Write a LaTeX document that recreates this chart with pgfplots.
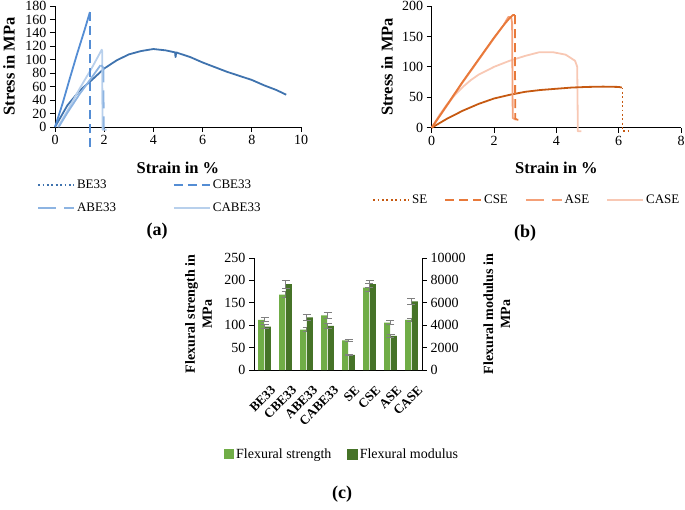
\documentclass[border=0pt]{standalone}
\usepackage{pgfplots}
\pgfplotsset{compat=1.18}
\usepackage{fontspec}
\setmainfont{Liberation Serif}

\definecolor{beA}{RGB}{63,115,174}
\definecolor{beB}{RGB}{84,141,212}
\definecolor{beC}{RGB}{141,180,226}
\definecolor{beD}{RGB}{184,208,236}
\definecolor{seA}{RGB}{198,89,17}
\definecolor{seB}{RGB}{232,121,58}
\definecolor{seC}{RGB}{244,160,120}
\definecolor{seD}{RGB}{248,200,180}
\definecolor{fs}{RGB}{112,173,71}
\definecolor{fm}{RGB}{70,115,40}

\pgfplotsset{
  curve/.style={
    scale only axis, anchor=south west, clip=false,
    axis lines*=left,
    axis line style={black, line width=0.8pt},
    tick align=outside, major tick length=5pt,
    tick style={black, line width=0.8pt},
    tick label style={font=\fontsize{14}{14}\selectfont},
    /pgf/number format/assume math mode=true,
    label style={font=\bfseries\fontsize{16.5}{16.5}\selectfont},
    xmin=0, ymin=0,
    legend style={draw=none, fill=none, font=\fontsize{13}{14}\selectfont,
      inner sep=0pt, anchor=west},
    legend cell align=left,
    legend image code/.code={\draw[##1] (0pt,0pt) -- (36pt,0pt);},
  },
  dotl/.style={dash pattern=on 1.8pt off 2.6pt},
  dashl/.style={dash pattern=on 9pt off 5pt},
  ldashl/.style={dash pattern=on 18pt off 8pt},
  lw/.style={line width=1.8pt, line join=round},
}

\begin{document}
\begin{tikzpicture}
\path[use as bounding box] (0,0) rectangle (685pt,509pt);

% ---------- (a) ----------
\begin{axis}[curve,
  at={(55pt,382pt)}, width=246pt, height=121pt,
  xmax=10, ymax=180,
  xtick={0,2,...,10}, ytick={0,20,...,180},
  xlabel={Strain in \%}, ylabel={Stress in MPa},
  xlabel style={at={(axis description cs:0.5,-0.339)}, anchor=center},
  ylabel style={at={(axis description cs:-0.187,0.5)}, anchor=center},
  legend columns=2,
  legend style={at={(axis description cs:-0.073,-0.574)}, row sep=9pt,
    /tikz/every even column/.append style={column sep=55pt}},
  ]
\addlegendimage{beA, lw, dotl}\addlegendentry{BE33}
\addlegendimage{beB, lw, dashl}\addlegendentry{CBE33}
\addlegendimage{beC, lw, ldashl}\addlegendentry{ABE33}
\addlegendimage{beD, lw}\addlegendentry{CABE33}

\addplot[beA, lw, forget plot] coordinates {
  (0,0) (0.5,32) (1,54) (1.5,70) (2,87) (2.5,99) (3,108) (3.5,113)
  (4,116) (4.5,114) (4.88,111) (4.9,104) (4.93,111) (5,110) (5.5,104)
  (6,96) (6.5,89) (7,82) (7.5,76) (8,70) (8.5,62) (9,55) (9.4,48)};
\addplot[beD, lw, forget plot] coordinates {
  (0.12,0) (0.5,24) (1,57) (1.5,88) (1.9,115) (1.92,113) (1.93,-4) (2.1,-4)};
\addplot[beC, lw, forget plot] coordinates {
  (0.15,0) (0.5,21) (1,49) (1.5,74) (1.85,92)};
\addplot[beC, lw, ldashl, forget plot] coordinates {
  (1.88,92) (1.97,88) (1.98,-4)};
\addplot[beB, lw, forget plot] coordinates {
  (0,0) (0.3,34) (0.6,72) (0.9,109) (1.2,144) (1.42,171)};
\addplot[beB, lw, dashl, forget plot] coordinates {
  (1.43,171) (1.43,-31)};
\end{axis}

% ---------- (b) ----------
\begin{axis}[curve,
  at={(431.7pt,381.3pt)}, width=249.3pt, height=121.7pt,
  xmax=8, ymax=200,
  xtick={0,2,...,8}, ytick={0,50,...,200},
  xlabel={Strain in \%}, ylabel={Stress in MPa},
  xlabel style={at={(axis description cs:0.5,-0.331)}, anchor=center},
  ylabel style={at={(axis description cs:-0.179,0.5)}, anchor=center},
  legend columns=4,
  legend style={at={(axis description cs:-0.239,-0.594)},
    /tikz/every even column/.append style={column sep=15pt}},
  ]
\addlegendimage{seA, lw, dotl}\addlegendentry{SE}
\addlegendimage{seB, lw, dashl}\addlegendentry{CSE}
\addlegendimage{seC, lw, ldashl}\addlegendentry{ASE}
\addlegendimage{seD, lw}\addlegendentry{CASE}

\addplot[seD, lw, forget plot] coordinates {
  (0,0) (0.25,21) (0.5,39) (0.75,54) (1,67) (1.25,78) (1.5,87) (2,100)
  (2.5,110) (3,118) (3.45,124) (3.9,124) (4.3,120) (4.6,110) (4.67,100)
  (4.69,-6) (4.8,-6)};
\addplot[seA, lw, forget plot] coordinates {
  (0,0) (0.5,15) (1,28) (1.5,39) (2,48) (2.5,54) (3,59) (3.5,62)
  (4,64) (4.5,66) (5,67) (5.5,67.5) (6,67) (6.1,66)};
\addplot[seA, lw, dotl, forget plot] coordinates {
  (6.12,66) (6.12,-5) (6.41,-5)};
\addplot[seC, lw, forget plot] coordinates {
  (0,0) (0.5,37) (1,75) (1.5,111) (2,147) (2.3,168) (2.46,182)
  (2.55,182) (2.58,172) (2.6,16) (2.7,13)};
\addplot[seB, lw, forget plot] coordinates {
  (0,0) (0.5,38) (1,76) (1.5,112) (2,148) (2.3,168) (2.5,180)
  (2.6,185) (2.67,185)};
\addplot[seB, lw, dashl, forget plot] coordinates {
  (2.67,185) (2.68,15) (2.75,13) (2.93,13)};
\end{axis}

% ---------- (c) ----------
\begin{axis}[
  scale only axis, anchor=south west,
  at={(254pt,139pt)}, width=168pt, height=112pt,
  xmin=-0.5, xmax=7.5, ymin=0, ymax=250,
  axis x line*=bottom, axis y line*=left,
  axis line style={black, line width=0.8pt},
  tick align=outside, major tick length=5pt,
  y tick style={black, line width=0.8pt}, x tick style={draw=none},
  xtick={0,...,7},
  xticklabels={BE33,CBE33,ABE33,CABE33,SE,CSE,ASE,CASE},
  xticklabel style={rotate=45, anchor=north east,
    font=\bfseries\fontsize{13}{13}\selectfont, inner sep=1pt,
    xshift=-2pt, yshift=-10pt},
  ytick={0,50,...,250},
  yticklabel style={font=\fontsize{14}{14}\selectfont},
  /pgf/number format/assume math mode=true,
  ylabel={Flexural strength in\\MPa},
  ylabel style={align=center, font=\bfseries\fontsize{14}{17}\selectfont,
    at={(axis description cs:-0.33,0.5)}, anchor=center},
  legend columns=2,
  legend style={draw=none, fill=none, font=\fontsize{14}{15}\selectfont,
    inner sep=0pt, anchor=west, at={(axis description cs:-0.179,-0.75)},
    /tikz/every even column/.append style={column sep=14pt}},
  legend image code/.code={\fill[#1] (0pt,-5pt) rectangle (10pt,5pt);},
  ]
\addplot[ybar, bar width=6pt, bar shift=-3.3pt, fill=fs, draw=none,
  error bars/.cd, y dir=both, y explicit,
  error bar style={gray, line width=1pt},
  error mark options={rotate=90, gray, mark size=4pt, line width=1pt}]
  coordinates {
  (0,112) +- (0,4.5)
  (1,168) +- (0,7)
  (2,90) +- (0,5)
  (3,122) +- (0,6)
  (4,66) +- (0,2)
  (5,184) +- (0,8)
  (6,106) +- (0,5)
  (7,112) +- (0,4)};
\addlegendentry{Flexural strength}
\addlegendimage{fm}\addlegendentry{Flexural modulus}
\end{axis}

\begin{axis}[
  scale only axis, anchor=south west,
  at={(254pt,139pt)}, width=168pt, height=112pt,
  xmin=-0.5, xmax=7.5, ymin=0, ymax=10000,
  axis x line=none, axis y line*=right,
  axis line style={black, line width=0.8pt},
  tick align=outside, major tick length=5pt,
  y tick style={black, line width=0.8pt},
  ytick={0,2000,...,10000},
  scaled y ticks=false,
  yticklabel style={font=\fontsize{14}{14}\selectfont,
    /pgf/number format/1000 sep={}},
  /pgf/number format/assume math mode=true,
  ylabel={Flexural modulus in\\MPa},
  ylabel style={align=center, font=\bfseries\fontsize{14}{17}\selectfont,
    at={(axis description cs:1.446,0.5)}, anchor=center, rotate=0},
  ]
\addplot[ybar, bar width=6pt, bar shift=3.3pt, fill=fm, draw=none,
  error bars/.cd, y dir=both, y explicit,
  error bar style={gray, line width=1pt},
  error mark options={rotate=90, gray, mark size=4pt, line width=1pt}]
  coordinates {
  (0,3880) +- (0,180)
  (1,7670) +- (0,350)
  (2,4690) +- (0,250)
  (3,3940) +- (0,230)
  (4,1340) +- (0,80)
  (5,7670) +- (0,300)
  (6,3040) +- (0,150)
  (7,6120) +- (0,300)};
\end{axis}

\node[font=\bfseries\fontsize{18}{18}\selectfont] at (157pt,278pt) {(a)};
\node[font=\bfseries\fontsize{18}{18}\selectfont] at (525pt,276pt) {(b)};
\node[font=\bfseries\fontsize{18}{18}\selectfont] at (342pt,15pt) {(c)};
\end{tikzpicture}
\end{document}
